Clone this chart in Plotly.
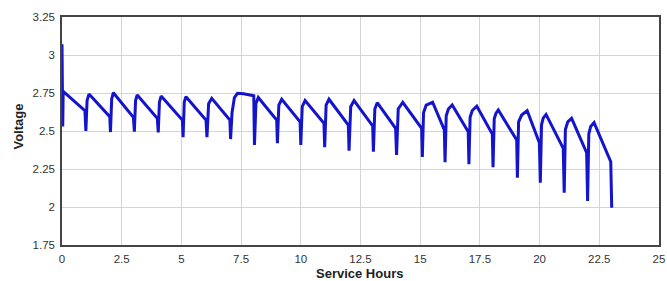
import plotly.graph_objects as go

hours = [0.00, 0.03, 0.05,
         0.96, 1.00, 1.05, 1.13,
         2.00, 2.03, 2.08, 2.15,
         2.99, 3.03, 3.08, 3.15,
         3.99, 4.03, 4.08, 4.15,
         5.04, 5.07, 5.12, 5.19,
         6.03, 6.07, 6.14, 6.27,
         7.03, 7.06, 7.12, 7.22, 7.35, 7.60, 7.95,
         8.03, 8.06, 8.12, 8.22,
         8.99, 9.02, 9.08, 9.20,
         9.97, 10.00, 10.06, 10.18,
         10.97, 11.00, 11.06, 11.18,
         11.99, 12.02, 12.09, 12.23,
         13.01, 13.04, 13.10, 13.20,
         13.97, 14.01, 14.08, 14.27,
         15.06, 15.09, 15.14, 15.25, 15.52,
         16.01, 16.04, 16.09, 16.18, 16.34,
         17.01, 17.04, 17.09, 17.18, 17.37,
         18.02, 18.05, 18.10, 18.17, 18.27,
         19.04, 19.07, 19.12, 19.25, 19.48,
         19.99, 20.03, 20.08, 20.15, 20.27,
         20.99, 21.03, 21.08, 21.18, 21.34,
         21.97, 22.01, 22.06, 22.14, 22.28,
         22.98, 23.02]

voltage = [3.07, 2.53, 2.76,
           2.634, 2.50, 2.70, 2.743,
           2.594, 2.493, 2.71, 2.752,
           2.59, 2.495, 2.70, 2.737,
           2.584, 2.49, 2.69, 2.73,
           2.572, 2.46, 2.69, 2.726,
           2.572, 2.46, 2.68, 2.715,
           2.572, 2.447, 2.62, 2.72, 2.748, 2.745, 2.737,
           2.732, 2.408, 2.68, 2.72,
           2.572, 2.419, 2.67, 2.709,
           2.561, 2.408, 2.66, 2.70,
           2.55, 2.393, 2.67, 2.709,
           2.539, 2.37, 2.66, 2.70,
           2.533, 2.364, 2.645, 2.686,
           2.518, 2.342, 2.645, 2.689,
           2.518, 2.33, 2.62, 2.67, 2.689,
           2.507, 2.294, 2.60, 2.645, 2.671,
           2.496, 2.281, 2.59, 2.635, 2.663,
           2.48, 2.261, 2.58, 2.615, 2.638,
           2.441, 2.193, 2.56, 2.605, 2.634,
           2.423, 2.16, 2.54, 2.585, 2.609,
           2.386, 2.094, 2.51, 2.56, 2.583,
           2.357, 2.04, 2.48, 2.53, 2.555,
           2.298, 1.995]

x_ticks = [0, 2.5, 5, 7.5, 10, 12.5, 15, 17.5, 20, 22.5, 25]
x_labels = ["0", "2.5", "5", "7.5", "10", "12.5", "15", "17.5", "20", "22.5", "25"]
y_ticks = [1.75, 2, 2.25, 2.5, 2.75, 3, 3.25]
y_labels = ["1.75", "2", "2.25", "2.5", "2.75", "3", "3.25"]

tick_font = dict(family="Liberation Sans Narrow, Arial Narrow, Liberation Sans, Arial", size=11.5, color="#333333")
title_font = dict(family="Liberation Sans, Arial", size=13, color="#222222")

fig = go.Figure()
fig.add_trace(go.Scatter(
    x=hours, y=voltage, mode="lines",
    line=dict(color="#1414cc", width=3),
    showlegend=False, hoverinfo="skip",
))

fig.update_layout(
    width=667, height=281,
    margin=dict(l=62, r=8, t=17, b=36, autoexpand=False),
    paper_bgcolor="white", plot_bgcolor="white",
    annotations=[
        dict(text="<b>Service Hours</b>", xref="paper", yref="paper",
             x=0.499, y=-0.125, xanchor="center", yanchor="middle",
             showarrow=False, font=title_font),
        dict(text="<b>Voltage</b>", xref="paper", yref="paper",
             x=-0.0745, y=0.5175, xanchor="center", yanchor="middle",
             textangle=-90, showarrow=False, font=title_font),
    ],
)
fig.update_xaxes(
    range=[0, 25], tickvals=x_ticks, ticktext=x_labels,
    showgrid=True, gridcolor="#d4d4d4", gridwidth=1,
    showline=True, linecolor="#444444", linewidth=1.5, mirror=True,
    zeroline=False, ticks="outside", ticklen=2, tickcolor="rgba(0,0,0,0)",
    tickfont=tick_font, automargin=False,
)
fig.update_yaxes(
    range=[1.75, 3.25], tickvals=y_ticks, ticktext=y_labels,
    showgrid=True, gridcolor="#d4d4d4", gridwidth=1,
    showline=True, linecolor="#444444", linewidth=1.5, mirror=True,
    zeroline=False, ticks="outside", ticklen=3, tickcolor="rgba(0,0,0,0)",
    tickfont=tick_font, automargin=False,
)

fig.write_html("out.html", config={"displayModeBar": False},
               post_script="document.body.style.margin='0';document.body.style.overflow='hidden';")
